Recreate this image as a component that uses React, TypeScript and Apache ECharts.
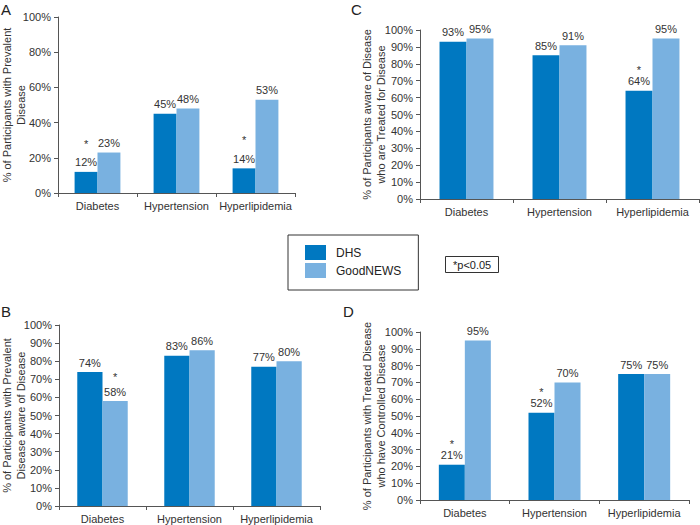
import React, { useEffect, useRef } from "react";
import * as echarts from "echarts";

const categories = ["Diabetes", "Hypertension", "Hyperlipidemia"];
const seriesNames = ["DHS", "GoodNEWS"];

// Panel A: prevalence
const dhsA = [12, 45, 14];
const goodA = [23, 48, 53];
const sigDhsA = [true, false, true];
const sigGoodA = [false, false, false];

// Panel B: awareness
const dhsB = [74, 83, 77];
const goodB = [58, 86, 80];
const sigDhsB = [false, false, false];
const sigGoodB = [true, false, false];

// Panel C: treatment
const dhsC = [93, 85, 64];
const goodC = [95, 91, 95];
const sigDhsC = [false, false, true];
const sigGoodC = [false, false, false];

// Panel D: control
const dhsD = [21, 52, 75];
const goodD = [95, 70, 75];
const sigDhsD = [true, true, false];
const sigGoodD = [false, false, false];

const panelLetters = ["A", "B", "C", "D"];
const yNames = [
  "% of Participants with Prevalent\nDisease",
  "% of Participants with Prevalent\nDisease aware of Disease",
  "% of Participants aware of Disease\nwho are Treated for Disease",
  "% of Participants with Treated Disease\nwho have Controlled Disease",
];
const yIntervals = [20, 10, 10, 10];
const noteText = "*p<0.05";

const FONT = "'Liberation Sans', Arial, Helvetica, sans-serif";
const TEXT = "#333";
const AXIS = "#555";
const C_DHS = "#0078c1";
const C_GOOD = "#79b1e0";

export default function App() {
  const ref = useRef<HTMLDivElement>(null);

  useEffect(() => {
    if (!ref.current) return;
    const chart = echarts.init(ref.current, undefined, { renderer: "svg" });

    const grids = [
      { left: 58, top: 17, width: 237, height: 176 },
      { left: 59, top: 325, width: 261, height: 181 },
      { left: 420, top: 30, width: 279, height: 169 },
      { left: 420, top: 332, width: 269, height: 168 },
    ].map((g) => ({ ...g, outerBoundsMode: "none", containLabel: false }));

    const nameGaps = [30, 31, 32, 32];

    const xAxes = grids.map((_, i) => ({
      type: "category",
      gridIndex: i,
      data: categories,
      axisLine: { lineStyle: { color: AXIS, width: 1 } },
      axisTick: { show: true, length: 4, lineStyle: { color: AXIS } },
      axisLabel: {
        color: TEXT,
        fontSize: 11,
        fontFamily: FONT,
        margin: 7,
        interval: 0,
        hideOverlap: false,
      },
    }));

    const yAxes = grids.map((_, i) => ({
      type: "value",
      gridIndex: i,
      min: 0,
      max: 100,
      interval: yIntervals[i],
      name: yNames[i],
      nameLocation: "middle",
      nameRotate: 90,
      nameGap: nameGaps[i],
      nameMoveOverlap: false,
      nameTextStyle: {
        color: TEXT,
        fontSize: 11,
        fontFamily: FONT,
        lineHeight: 14,
        align: "center",
      },
      axisLine: { show: true, lineStyle: { color: AXIS, width: 1 } },
      axisTick: { show: true, length: 4, lineStyle: { color: AXIS } },
      splitLine: { show: false },
      axisLabel: {
        color: TEXT,
        fontSize: 11,
        fontFamily: FONT,
        margin: 7,
        formatter: "{value}%",
      },
    }));

    // order of grids: A, B, C, D
    const panelData = [
      [dhsA, goodA, sigDhsA, sigGoodA, 24],
      [dhsB, goodB, sigDhsB, sigGoodB, 16],
      [dhsC, goodC, sigDhsC, sigGoodC, 10],
      [dhsD, goodD, sigDhsD, sigGoodD, 10],
    ] as const;

    const series: any[] = [];
    panelData.forEach(([dhs, good, sd, sg, starLH], i) => {
      const mk = (name: string, data: readonly number[], sig: readonly boolean[], color: string) => ({
        type: "bar",
        name,
        xAxisIndex: i,
        yAxisIndex: i,
        data: data.slice(),
        barGap: "0%",
        barCategoryGap: "42%",
        itemStyle: { color },
        label: {
          show: true,
          position: "top",
          distance: 3,
          formatter: (p: any) =>
            sig[p.dataIndex] ? `{s|*}\n{v|${p.value}%}` : `{v|${p.value}%}`,
          rich: {
            s: { fontSize: 11, lineHeight: starLH, color: TEXT, fontFamily: FONT },
            v: { fontSize: 11, lineHeight: 13, color: TEXT, fontFamily: FONT },
          },
        },
      });
      series.push(mk(seriesNames[0], dhs, sd, C_DHS));
      series.push(mk(seriesNames[1], good, sg, C_GOOD));
    });

    const letterPos = [
      { left: 1, top: 2 },
      { left: 1, top: 304 },
      { left: 351, top: 2 },
      { left: 343, top: 304 },
    ];

    const titles: any[] = panelLetters.map((t, i) => ({
      text: t,
      ...letterPos[i],
      padding: 0,
      textStyle: { fontSize: 15, fontWeight: "normal", color: "#222", fontFamily: FONT },
    }));
    titles.push({
      text: noteText,
      left: 445,
      top: 256,
      padding: [2, 8, 2, 8],
      borderColor: "#333",
      borderWidth: 1,
      textStyle: { fontSize: 11, fontWeight: "normal", color: "#222", fontFamily: FONT, lineHeight: 13 },
    });

    chart.setOption({
      animation: false,
      backgroundColor: "#fff",
      textStyle: { fontFamily: FONT },
      title: titles,
      legend: {
        data: seriesNames,
        orient: "vertical",
        left: 288,
        top: 235,
        padding: [10, 17, 12, 17],
        itemWidth: 21,
        itemHeight: 15,
        itemGap: 3,
        icon: "rect",
        borderColor: "#333",
        borderWidth: 1,
        selectedMode: false,
        textStyle: { fontSize: 12, color: "#222", fontFamily: FONT, padding: [0, 0, 0, 5] },
      },
      grid: grids,
      xAxis: xAxes,
      yAxis: yAxes,
      series,
    });

    return () => chart.dispose();
  }, []);

  return (
    <div
      ref={ref}
      style={{ position: "fixed", left: 0, top: 0, width: 700, height: 525, background: "#fff" }}
    />
  );
}
